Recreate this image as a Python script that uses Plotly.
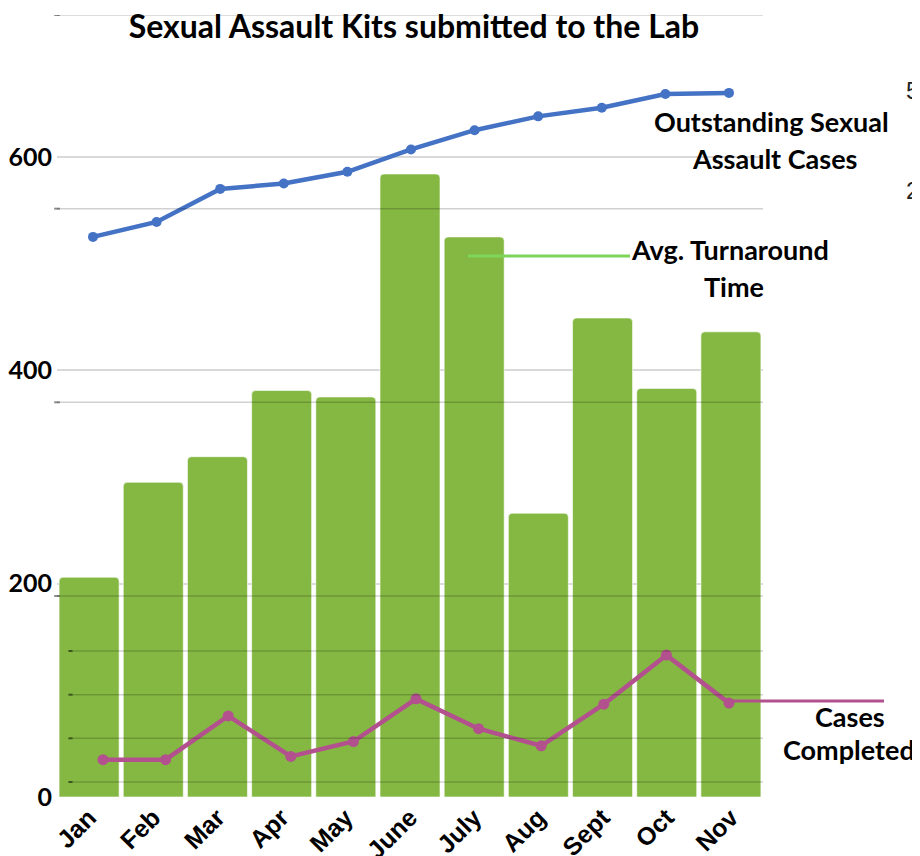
import plotly.graph_objects as go

months = ["Jan", "Feb", "Mar", "Apr", "May", "June", "July", "Aug", "Sept", "Oct", "Nov"]
kits_submitted = [206, 295, 319, 381, 375, 584, 525, 266, 449, 383, 436]
outstanding_cases = [525, 539, 570, 575, 586, 607, 625, 638, 646, 659, 660]
cases_completed = [35, 35, 76, 38, 52, 92, 64, 48, 87, 133, 88]
y_ticks = [0, 200, 400, 600]
overlay_grid_a = [1, 2, 3, 4]
overlay_grid_b = [1, 2, 3, 4]

BAR = "#84B843"
BLUE = "#4472C4"
MAG = "#B3508E"
LGREEN = "#7DD65A"

# the page has an 8px body margin; coordinates below are page pixels
OFF = 8
PL, PR, PT, PB = 57, 763, 15, 797
PW, PH = PR - PL, PB - PT

fig = go.Figure()
fig.add_trace(go.Bar(
    x=months, y=kits_submitted, name="Kits Submitted",
    marker=dict(color=BAR, cornerradius=4, line=dict(color="rgba(255,255,255,0.6)", width=1)),
    xaxis="x", yaxis="y", showlegend=False,
))
fig.add_trace(go.Scatter(
    x=months, y=outstanding_cases, mode="lines+markers", name="Outstanding Sexual Assault Cases",
    line=dict(color=BLUE, width=4.5), marker=dict(color=BLUE, size=10),
    xaxis="x2", yaxis="y", showlegend=False,
))
fig.add_trace(go.Scatter(
    x=months, y=cases_completed, mode="lines+markers", name="Cases Completed",
    line=dict(color=MAG, width=4.5), marker=dict(color=MAG, size=11),
    xaxis="x3", yaxis="y", showlegend=False,
))

shapes = []
for v in overlay_grid_a:
    shapes.append(dict(type="line", xref="paper", yref="y2", x0=0, x1=1, y0=v, y1=v,
                       line=dict(color="rgba(0,0,0,0.18)", width=1.5), layer="above"))
    shapes.append(dict(type="line", xref="paper", yref="y2", x0=-0.004, x1=0.004, y0=v, y1=v,
                       line=dict(color="rgba(0,0,0,0.45)", width=2), layer="above"))
for v in overlay_grid_b:
    shapes.append(dict(type="line", xref="paper", yref="y3", x0=0.017, x1=1, y0=v, y1=v,
                       line=dict(color="rgba(0,0,0,0.18)", width=1.5), layer="above"))
    shapes.append(dict(type="line", xref="paper", yref="y3", x0=0.016, x1=0.022, y0=v, y1=v,
                       line=dict(color="rgba(0,0,0,0.45)", width=2), layer="above"))


def fx(px):
    return (px - PL) / PW


def fy(py):
    return (PB - py) / PH


shapes.append(dict(type="line", xref="paper", yref="paper", x0=fx(468), x1=fx(630),
                   y0=fy(256), y1=fy(256), line=dict(color=LGREEN, width=3), layer="above"))
shapes.append(dict(type="line", xref="paper", yref="paper", x0=fx(729), x1=fx(884),
                   y0=fy(701), y1=fy(701), line=dict(color=MAG, width=3), layer="above"))


def ann_px(text, px, py, size, bold=True, xanchor="center", family="Lato", color="#000"):
    return dict(text=f"<b>{text}</b>" if bold else text,
                x=fx(px), y=fy(py), xref="paper", yref="paper",
                xanchor=xanchor, yanchor="middle", showarrow=False,
                font=dict(family=family, size=size, color=color))


annotations = [
    ann_px("Outstanding Sexual", 771, 122, 27),
    ann_px("Assault Cases", 774, 158, 27),
    ann_px("Avg. Turnaround", 730, 249, 27),
    ann_px("Time", 734, 286, 27),
    ann_px("Cases", 850, 716, 27),
    ann_px("Completed", 849, 749, 27),
    ann_px("5", 904, 90, 24, bold=False, xanchor="left", family="Liberation Sans", color="#222"),
    ann_px("2", 904, 190, 24, bold=False, xanchor="left", family="Liberation Sans", color="#222"),
]

W, H = 920, 856
fig.update_layout(
    width=W, height=H,
    margin=dict(l=PL - OFF, r=W - (PR - OFF), t=PT - OFF, b=H - (PB - OFF), autoexpand=False),
    paper_bgcolor="white", plot_bgcolor="white",
    title=dict(text="<b>Sexual Assault Kits submitted to the Lab</b>", x=(414 - OFF) / W, xanchor="center",
               y=1 - (27 - OFF) / H, yanchor="middle", yref="container",
               font=dict(family="Lato", size=32, color="#000")),
    bargap=0.065,
    xaxis=dict(type="category", categoryorder="array", categoryarray=months, range=[-0.5, 10.5],
               showgrid=False, showline=False, zeroline=False, ticks="", tickangle=-45,
               tickprefix="<b>", ticksuffix="</b>", automargin=False,
               tickfont=dict(family="Liberation Sans", size=25, color="#000")),
    xaxis2=dict(type="category", categoryorder="array", categoryarray=months, overlaying="x",
                range=[-0.566, 10.535], visible=False, automargin=False),
    xaxis3=dict(type="category", categoryorder="array", categoryarray=months, overlaying="x",
                range=[-0.735, 10.543], visible=False, automargin=False),
    yaxis=dict(range=[0, 733], tickvals=y_ticks, ticktext=[f"<b>{v}</b>" for v in y_ticks],
               showgrid=True, gridcolor="#D9D9D9", gridwidth=1.5, zeroline=False, showline=False,
               ticks="", automargin=False, ticklabelstandoff=4,
               tickfont=dict(family="Lato", size=25, color="#000")),
    yaxis2=dict(range=[-0.038, 4.0], overlaying="y", visible=False, automargin=False),
    yaxis3=dict(range=[0.657, 18.56], overlaying="y", visible=False, automargin=False),
    shapes=shapes,
    annotations=annotations,
)

fig.write_html("out.html")
